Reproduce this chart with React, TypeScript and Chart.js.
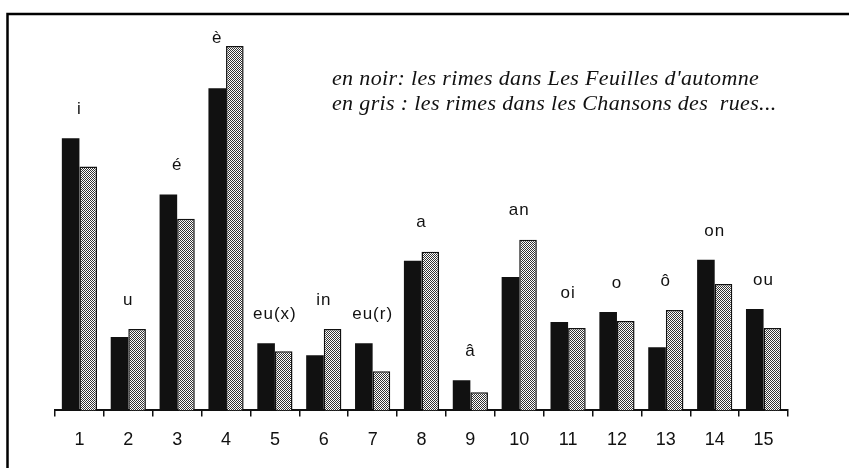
import React, { useEffect, useRef } from "react";
import { Chart, registerables } from "chart.js";

Chart.register(...registerables);

const categories = ["1", "2", "3", "4", "5", "6", "7", "8", "9", "10", "11", "12", "13", "14", "15"];
const rhymeLabels = ["i", "u", "é", "è", "eu(x)", "in", "eu(r)", "a", "â", "an", "oi", "o", "ô", "on", "ou"];
const feuillesAutomne = [27.1, 7.3, 21.5, 32.1, 6.7, 5.5, 6.7, 14.9, 3.0, 13.3, 8.8, 9.8, 6.3, 15.0, 10.1];
const chansonsRues = [24.3, 8.1, 19.1, 36.3, 5.9, 8.1, 3.9, 15.8, 1.8, 17.0, 8.2, 8.9, 10.0, 12.6, 8.2];
const legendLines = [
  "en noir: les rimes dans Les Feuilles d'automne",
  "en gris : les rimes dans les Chansons des  rues...",
];
const Y_MAX = 36.9;

export default function App() {
  const ref = useRef<HTMLCanvasElement | null>(null);

  useEffect(() => {
    const canvas = ref.current;
    if (!canvas) return;

    const pc = document.createElement("canvas");
    pc.width = 2;
    pc.height = 2;
    const pctx = pc.getContext("2d")!;
    pctx.fillStyle = "#ffffff";
    pctx.fillRect(0, 0, 2, 2);
    pctx.fillStyle = "#333333";
    pctx.fillRect(0, 0, 1, 1);
    pctx.fillRect(1, 1, 1, 1);
    const pattern = canvas.getContext("2d")!.createPattern(pc, "repeat")!;

    const decor = {
      id: "decor",
      afterDraw(chart: any) {
        const ctx = chart.ctx;
        const area = chart.chartArea;
        ctx.save();
        // frame (left + top)
        ctx.strokeStyle = "#000";
        ctx.lineWidth = 2.5;
        ctx.beginPath();
        ctx.moveTo(7.5, 470);
        ctx.lineTo(7.5, 14);
        ctx.lineTo(851, 14);
        ctx.stroke();

        // rhyme labels above groups
        const m0 = chart.getDatasetMeta(0);
        const m1 = chart.getDatasetMeta(1);
        ctx.fillStyle = "#111";
        ctx.font = "17px 'Liberation Sans', Arial, sans-serif";
        (ctx as any).letterSpacing = "1px";
        ctx.textAlign = "center";
        ctx.textBaseline = "middle";
        rhymeLabels.forEach((lab, i) => {
          const b0 = m0.data[i];
          const b1 = m1.data[i];
          const top = Math.min(b0.y, b1.y);
          let x = chart.scales.x.getPixelForValue(i);
          let y = top - 29;
          if (y < area.top - 2) {
            y = area.top - 2;
            x = b0.x;
          }
          ctx.fillText(lab, x, y);
        });

        // legend text
        (ctx as any).letterSpacing = "0.35px";
        ctx.textAlign = "left";
        ctx.textBaseline = "alphabetic";
        ctx.font = "italic 22px 'Liberation Serif', 'Times New Roman', serif";
        ctx.fillStyle = "#111";
        ctx.fillText(legendLines[0], 332, 85);
        ctx.fillText(legendLines[1], 332, 110);
        ctx.restore();
      },
    };

    const chart = new Chart(canvas, {
      type: "bar",
      data: {
        labels: categories,
        datasets: [
          {
            label: "Les Feuilles d'automne",
            data: feuillesAutomne,
            backgroundColor: "#111",
            borderWidth: 0,
            categoryPercentage: 0.72,
            barPercentage: 1.0,
          },
          {
            label: "Les Chansons des rues",
            data: chansonsRues,
            backgroundColor: pattern as any,
            borderColor: "#111",
            borderWidth: 1.5,
            categoryPercentage: 0.72,
            barPercentage: 1.0,
          },
        ],
      },
      options: {
        animation: false,
        responsive: true,
        maintainAspectRatio: false,
        layout: { padding: { left: 55, right: 61, top: 40, bottom: 4 } },
        plugins: {
          legend: { display: false },
          tooltip: { enabled: false },
          title: { display: false },
        },
        scales: {
          x: {
            offset: true,
            grid: {
              offset: true,
              drawOnChartArea: false,
              drawTicks: true,
              tickLength: 6,
              color: "#111",
              lineWidth: 1.5,
            },
            border: { display: true, color: "#111", width: 2 },
            ticks: {
              color: "#111",
              padding: 13,
              font: { family: "'Liberation Sans', Arial, sans-serif", size: 18 },
            },
          },
          y: {
            display: false,
            min: 0,
            max: Y_MAX,
          },
        },
      },
      plugins: [decor],
    });

    return () => chart.destroy();
  }, []);

  return (
    <div style={{ position: "fixed", left: 0, top: 0, width: 849, height: 468, background: "#fff" }}>
      <canvas ref={ref} />
    </div>
  );
}
